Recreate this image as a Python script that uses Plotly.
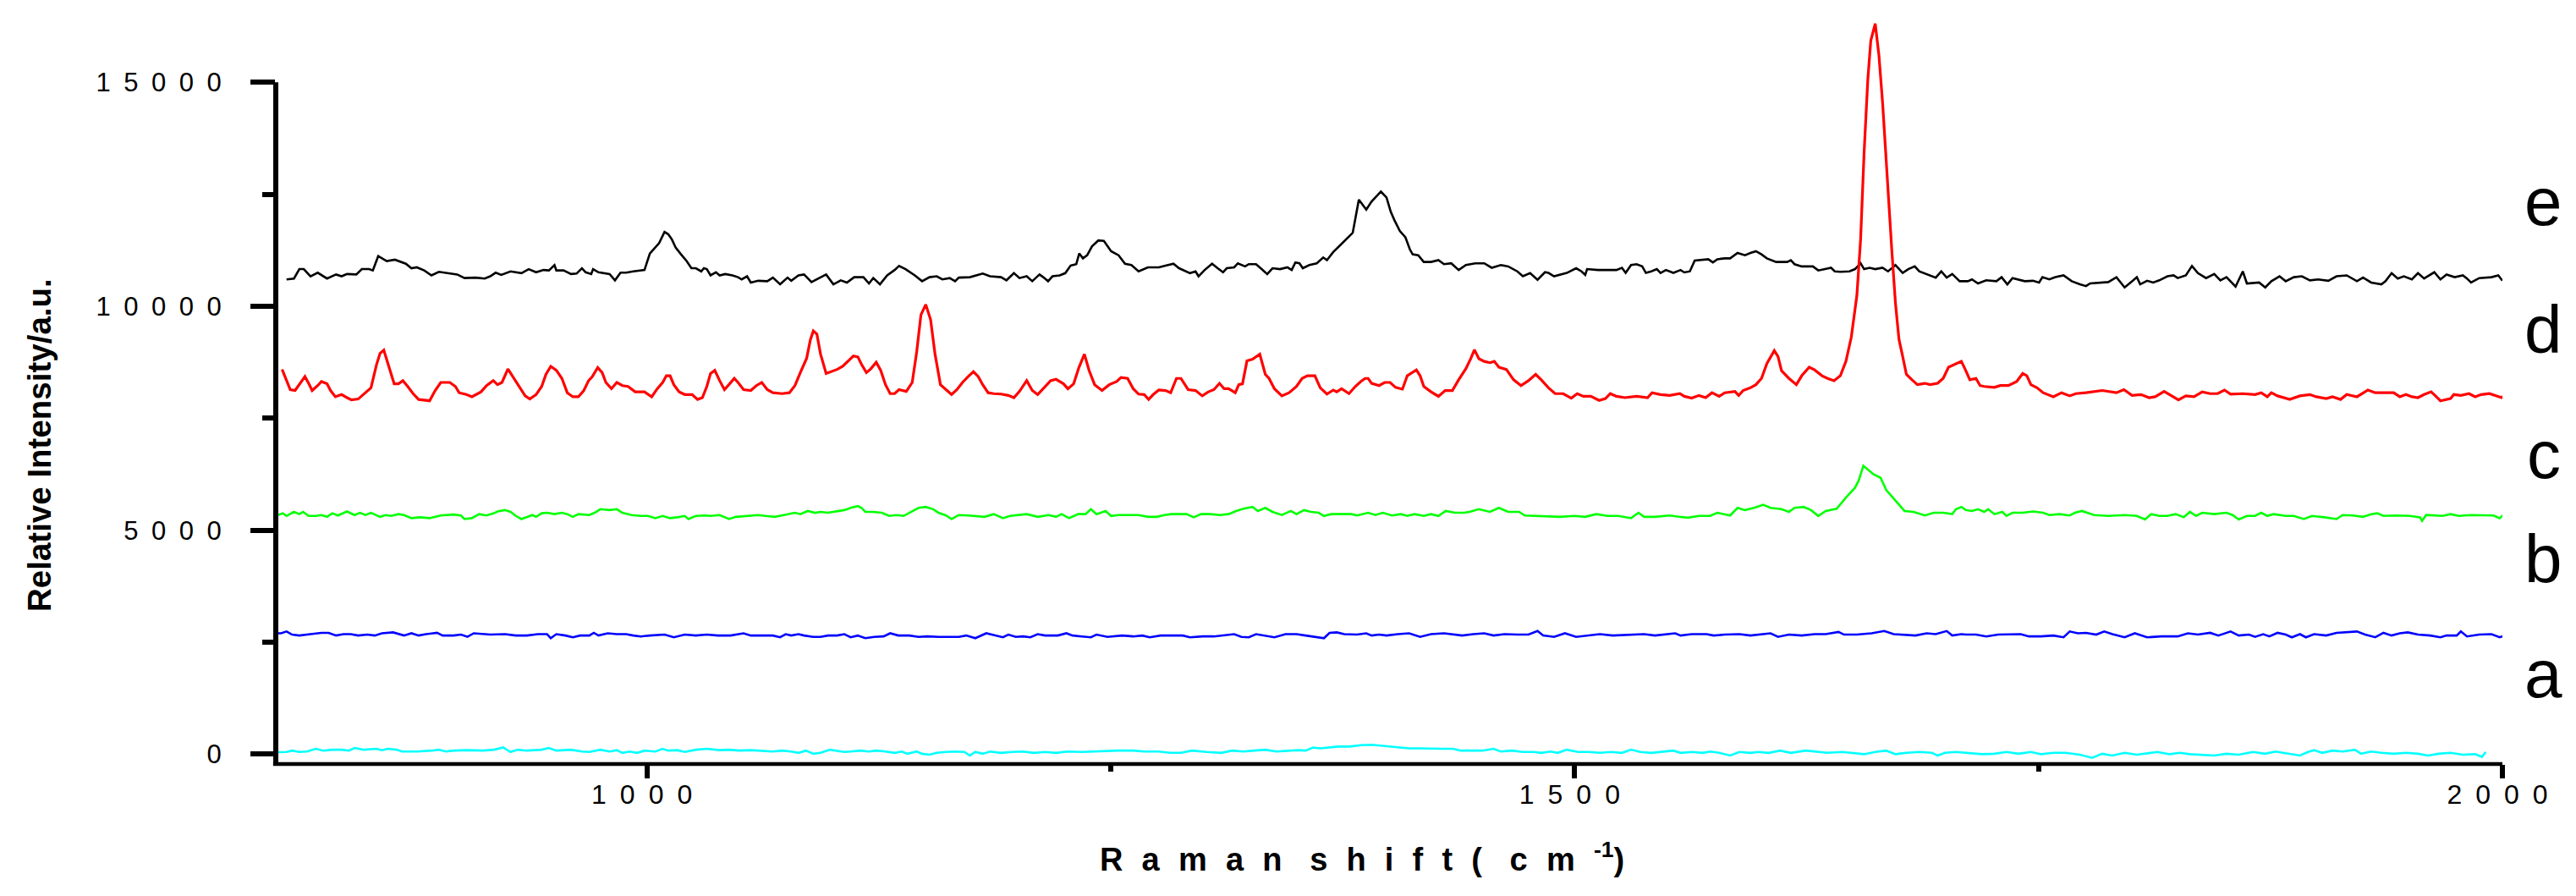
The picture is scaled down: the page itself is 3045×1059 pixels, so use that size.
import plotly.graph_objects as go

# ---------------- data ----------------
e_x = [805.8, 809.8, 812.7, 815.1, 818.7, 822.6, 827.6, 832.5, 835.5, 838.4, 843.4, 846.4, 850.3, 852.3, 855.2, 857.2, 859.8, 864.2, 867.1, 870.1, 873.1, 876.0, 880.0, 883.9, 887.9, 893.8, 897.8, 901.7, 907.7, 912.6, 915.6, 918.5, 921.5, 926.5, 932.4, 936.3, 940.3, 944.3, 947.2, 950.2, 951.2, 955.1, 959.1, 962.1, 965.0, 967.0, 970.0, 971.0, 973.9, 979.9, 982.8, 985.8, 988.8, 992.7, 998.7, 1001.6, 1004.6, 1006.6, 1009.5, 1011.5, 1013.5, 1015.5, 1018.4, 1021.4, 1024.0, 1026.4, 1029.3, 1030.7, 1032.3, 1034.3, 1037.2, 1039.2, 1042.2, 1046.1, 1049.1, 1051.1, 1054.0, 1056.0, 1060.0, 1064.9, 1067.9, 1071.8, 1075.8, 1077.8, 1081.7, 1084.7, 1088.7, 1092.6, 1096.6, 1100.5, 1104.5,
       1107.8, 1111.7, 1116.7, 1119.7, 1122.0, 1125.6, 1129.5, 1133.5, 1135.9, 1139.4, 1144.4, 1148.3, 1152.3, 1156.2, 1159.2, 1163.2, 1166.1, 1168.1, 1174.1, 1178.0, 1181.0, 1184.9, 1190.9, 1193.8, 1197.8, 1200.8, 1204.7, 1207.7, 1211.6, 1213.6, 1216.2, 1218.6, 1222.5, 1225.5, 1228.4, 1231.4, 1233.0, 1235.0, 1237.3, 1239.9, 1243.3, 1246.3, 1250.2, 1254.2, 1257.7, 1261.1, 1265.0, 1270.0, 1275.9, 1279.9, 1283.8, 1286.8, 1292.7, 1295.7, 1297.3, 1300.6, 1304.6, 1307.6, 1310.5, 1312.5, 1316.5, 1318.5, 1322.4, 1324.4, 1328.3, 1331.3, 1334.3, 1337.2, 1341.2, 1345.2, 1347.5, 1349.5, 1351.7, 1353.5, 1357.0, 1361.0, 1364.5, 1366.5, 1369.9, 1373.8, 1376.8, 1380.4, 1383.7, 1387.7, 1390.6, 1392.6, 1395.6, 1398.6,
       1400.9, 1402.9, 1405.8, 1408.8, 1411.2, 1412.7, 1415.7, 1418.7, 1422.6, 1426.6, 1429.6, 1433.5, 1437.5, 1441.4, 1446.4, 1451.3, 1455.3, 1460.2, 1464.2, 1469.1, 1472.1, 1476.0, 1480.0, 1484.0, 1485.9, 1488.9, 1495.8, 1500.8, 1503.7, 1505.7, 1506.7, 1512.6, 1517.6, 1522.5, 1525.5, 1527.5, 1530.4, 1533.4, 1536.4, 1538.4, 1541.3, 1544.3, 1546.3, 1549.2, 1553.2, 1557.1, 1559.1, 1562.1, 1564.7, 1569.0, 1572.0, 1574.5, 1576.9, 1580.9, 1583.8, 1587.8, 1591.8, 1594.7, 1597.7, 1600.7, 1603.6, 1608.6, 1614.5, 1616.5, 1618.5, 1622.4, 1628.4, 1631.3, 1635.3, 1638.2, 1640.2, 1643.2, 1648.1, 1651.1, 1654.1, 1656.0, 1659.0, 1662.0, 1665.9, 1668.9, 1672.9, 1676.8, 1679.8, 1683.3, 1685.7, 1689.7, 1694.6, 1697.6, 1700.5, 1703.5, 1707.5,
       1711.9, 1714.1, 1717.4, 1721.8, 1727.3, 1730.1, 1733.2, 1736.0, 1742.6, 1747.0, 1750.3, 1752.1, 1755.8, 1759.1, 1763.5, 1767.9, 1772.3, 1775.6, 1777.8, 1783.2, 1787.6, 1792.0, 1796.4, 1800.8, 1803.0, 1804.8, 1808.5, 1811.8, 1815.1, 1819.5, 1822.8, 1825.0, 1829.4, 1832.7, 1835.9, 1840.3, 1844.7, 1848.0, 1851.3, 1856.2, 1860.1, 1862.3, 1868.9, 1872.2, 1875.5, 1879.9, 1883.2, 1887.6, 1891.9, 1896.3, 1900.7, 1906.2, 1910.6, 1916.1, 1921.6, 1924.9, 1929.3, 1934.8, 1937.0, 1940.3, 1943.6, 1946.9, 1951.2, 1954.5, 1957.8, 1963.3, 1966.6, 1969.9, 1974.3, 1978.7, 1980.9, 1983.1, 1987.5, 1994.1, 1997.8, 2000.0]
e_y = [10600, 10620, 10830, 10830, 10670, 10750, 10620, 10710, 10670, 10720, 10710, 10830, 10830, 10800, 11120, 11070, 11010, 11040, 11000, 10950, 10850, 10870, 10800, 10690, 10770, 10740, 10710, 10630, 10640, 10620, 10670, 10750, 10700, 10780, 10740, 10830, 10760, 10810, 10800, 10920, 10800, 10800, 10720, 10730, 10850, 10760, 10720, 10830, 10760, 10720, 10580, 10750, 10750, 10780, 10810, 11180, 11320, 11410, 11660, 11610, 11490, 11310, 11160, 11010, 10850, 10850, 10780, 10850, 10830, 10690, 10760, 10690, 10720, 10690, 10650, 10600, 10670, 10530, 10570, 10560, 10640, 10490, 10640, 10570, 10690, 10710, 10540, 10620, 10710, 10490, 10580,
       10530, 10650, 10650, 10510, 10630, 10490, 10690, 10810, 10900, 10830, 10690, 10560, 10650, 10670, 10600, 10630, 10560, 10640, 10650, 10690, 10730, 10670, 10650, 10580, 10740, 10630, 10670, 10560, 10710, 10650, 10560, 10670, 10690, 10740, 10910, 10940, 11180, 11070, 11140, 11340, 11470, 11460, 11230, 11140, 10950, 10920, 10780, 10870, 10870, 10910, 10950, 10850, 10740, 10780, 10670, 10810, 10950, 10850, 10760, 10850, 10870, 10960, 10890, 10940, 10940, 10830, 10720, 10850, 10830, 10870, 10810, 10980, 10960, 10850, 10920, 10960, 11090, 11030, 11210, 11370, 11500, 11640, 12380, 12160, 12340, 12430, 12560, 12430,
       12110, 11920, 11680, 11540, 11270, 11160, 11140, 10990, 10990, 11030, 10940, 10960, 10810, 10920, 10960, 10960, 10860, 10920, 10890, 10780, 10670, 10740, 10590, 10760, 10745, 10670, 10745, 10850, 10780, 10700, 10830, 10810, 10810, 10810, 10860, 10745, 10920, 10940, 10890, 10745, 10780, 10830, 10745, 10810, 10745, 10810, 10756, 10780, 11020, 11030, 11050, 10980, 11050, 11070, 11070, 11190, 11140, 11190, 11230, 11160, 11070, 10990, 10990, 11030, 10940, 10890, 10890, 10800, 10830, 10860, 10780, 10770, 10780, 10830, 10960, 10830, 10860, 10830, 10860, 10780, 10920, 10745, 10830, 10890, 10780, 10720, 10640, 10780, 10640, 10720, 10560,
       10560, 10600, 10510, 10580, 10560, 10650, 10490, 10630, 10560, 10570, 10530, 10650, 10600, 10650, 10690, 10560, 10490, 10450, 10510, 10530, 10540, 10650, 10420, 10570, 10650, 10490, 10570, 10530, 10580, 10670, 10690, 10630, 10690, 10900, 10740, 10630, 10720, 10580, 10650, 10440, 10780, 10510, 10530, 10420, 10560, 10670, 10560, 10650, 10670, 10580, 10600, 10570, 10670, 10690, 10560, 10640, 10530, 10490, 10560, 10740, 10620, 10670, 10600, 10740, 10620, 10760, 10600, 10710, 10650, 10690, 10620, 10530, 10630, 10650, 10690, 10570]

d_x = [803.4, 805.8, 807.8, 810.4, 812.7, 815.7, 817.7, 819.6, 822.6, 824.6, 827.6, 829.5, 832.1, 835.5, 838.4, 840.8, 844.4, 847.3, 851.3, 854.3, 856.2, 858.2, 860.6, 863.8, 866.1, 868.5, 871.1, 874.0, 877.0, 880.0, 882.9, 885.9, 888.9, 893.8, 896.8, 898.8, 902.7, 905.7, 910.6, 913.6, 917.2, 919.5, 921.9, 925.1, 927.8, 931.4, 934.4, 936.9, 940.3, 943.3, 945.6, 948.2, 951.2, 954.2, 957.1, 960.1, 963.1, 966.0, 968.6, 970.6, 973.5, 975.9, 977.9, 980.9, 983.8, 986.8, 989.8, 993.7, 998.7, 1002.6, 1005.6, 1008.5, 1010.5, 1012.5, 1014.5, 1017.4, 1020.4, 1024.4, 1027.3, 1029.9, 1032.3, 1034.3, 1036.6, 1039.2, 1041.8, 1044.2, 1047.1, 1049.1, 1052.1, 1056.0, 1059.0, 1061.9, 1064.9, 1067.9, 1072.8, 1076.8, 1079.8, 1082.7, 1086.1, 1088.1, 1089.7, 1091.6, 1093.6, 1096.6, 1099.5, 1102.5, 1105.5,
       1108.8, 1111.3, 1113.7, 1115.7, 1118.3, 1120.6, 1123.6, 1126.0, 1128.6, 1131.1, 1133.5, 1135.9, 1139.8, 1143.0, 1145.4, 1147.7, 1150.3, 1152.9, 1155.3, 1158.2, 1161.2, 1164.2, 1167.1, 1170.1, 1173.1, 1176.0, 1178.6, 1181.0, 1183.9, 1186.9, 1190.9, 1194.8, 1197.8, 1200.8, 1204.7, 1207.7, 1210.6, 1214.6, 1217.6, 1220.5, 1224.5, 1226.9, 1230.0, 1232.8, 1235.8, 1238.3, 1241.3, 1245.3, 1249.2, 1253.2, 1255.5, 1259.1, 1262.1, 1265.0, 1268.0, 1270.4, 1272.9, 1275.9, 1279.5, 1282.3, 1285.4, 1287.8, 1291.7, 1295.7, 1299.3, 1302.6, 1305.6, 1308.6, 1311.1, 1313.5, 1317.1, 1319.0, 1321.0, 1323.4, 1326.4, 1330.3, 1333.3, 1335.3, 1338.2, 1342.2, 1346.1, 1350.1, 1353.1, 1356.0, 1360.0, 1362.9, 1366.5, 1369.9, 1371.8, 1374.4, 1378.4, 1381.8, 1384.7, 1387.1, 1388.7, 1390.6, 1394.6, 1397.6, 1400.5, 1403.5,
       1407.2, 1409.8, 1412.7, 1414.7, 1416.7, 1418.7, 1422.6, 1426.6, 1430.2, 1434.1, 1437.5, 1441.4, 1444.0, 1446.0, 1448.4, 1451.3, 1454.3, 1456.7, 1459.2, 1463.2, 1467.1, 1471.1, 1475.1, 1479.0, 1482.0, 1485.9, 1489.5, 1493.8, 1498.2, 1501.4, 1504.7, 1508.7, 1513.2, 1516.6, 1519.2, 1522.5, 1527.1, 1533.4, 1539.3, 1541.7, 1546.3, 1551.2, 1556.7, 1559.1, 1563.1, 1567.0, 1570.6, 1574.0, 1577.9, 1580.9, 1586.4, 1588.4, 1590.8, 1594.7, 1597.7, 1600.7, 1603.6, 1607.6, 1609.6, 1611.5, 1615.5, 1619.5, 1622.4, 1626.4, 1629.3, 1633.3, 1636.3, 1639.8, 1643.2, 1646.2, 1649.1, 1652.1, 1654.1, 1656.0, 1658.0, 1659.6, 1662.0, 1664.0, 1666.0, 1668.3, 1670.9, 1672.9, 1674.8, 1676.8, 1678.8, 1681.8, 1684.7, 1688.7, 1691.6, 1695.6, 1698.6, 1701.5, 1704.5, 1708.4,
       1710.3, 1713.0, 1716.3, 1718.5, 1720.7, 1726.2, 1729.4, 1733.8, 1738.2, 1741.5, 1743.7, 1745.9, 1749.2, 1752.5, 1758.0, 1762.4, 1766.8, 1770.1, 1775.6, 1784.3, 1792.0, 1796.0, 1800.4, 1805.2, 1809.6, 1812.9, 1817.7, 1821.7, 1825.4, 1829.4, 1833.8, 1838.2, 1842.5, 1846.5, 1850.2, 1853.5, 1860.1, 1866.7, 1870.0, 1873.3, 1875.5, 1878.8, 1885.4, 1890.9, 1896.3, 1899.6, 1905.1, 1908.4, 1912.8, 1916.1, 1921.6, 1927.5, 1931.5, 1937.0, 1941.4, 1944.7, 1948.0, 1951.2, 1954.5, 1957.8, 1961.6, 1964.4, 1966.6, 1972.1, 1973.8, 1977.6, 1982.0, 1985.3, 1988.6, 1993.0, 1996.3, 1999.6, 2002.0]
d_y = [8590, 8340, 8140, 8120, 8250, 8430, 8280, 8120, 8230, 8320, 8270, 8120, 7980, 8030, 7960, 7910, 7930, 8030, 8180, 8700, 8950, 9020, 8700, 8270, 8270, 8340, 8210, 8050, 7920, 7910, 7890, 8120, 8300, 8300, 8210, 8070, 8030, 7980, 8090, 8230, 8340, 8250, 8300, 8600, 8430, 8180, 8000, 7930, 8030, 8210, 8480, 8660, 8570, 8390, 8070, 7980, 7980, 8120, 8340, 8430, 8630, 8520, 8300, 8160, 8300, 8230, 8210, 8090, 8090, 7980, 8160, 8300, 8450, 8450, 8250, 8090, 8030, 8030, 7920, 7960, 8210, 8500, 8570, 8340, 8140, 8250, 8390, 8300, 8140, 8120, 8230, 8300, 8140, 8070, 8050, 8070, 8230, 8520, 8840, 9250, 9450, 9380, 8930, 8500, 8540, 8590, 8660,
       8780, 8890, 8870, 8700, 8520, 8600, 8750, 8570, 8250, 8050, 8050, 8140, 8100, 8300, 8980, 9810, 10040, 9700, 8930, 8250, 8140, 8030, 8140, 8300, 8430, 8540, 8430, 8250, 8070, 8050, 8040, 8010, 7960, 8100, 8340, 8120, 8030, 8220, 8340, 8370, 8270, 8160, 8270, 8630, 8930, 8570, 8250, 8120, 8250, 8320, 8410, 8390, 8160, 8040, 8030, 7920, 8030, 8130, 8120, 8070, 8390, 8390, 8140, 8120, 8000, 8090, 8140, 8280, 8160, 8160, 8070, 8250, 8270, 8780, 8820, 8930, 8480, 8390, 8160, 8000, 8070, 8210, 8390, 8450, 8450, 8180, 8040, 8130, 8090, 8160, 8050, 8210, 8320, 8390, 8390, 8280, 8230, 8300, 8300, 8190,
       8150, 8450, 8530, 8580, 8450, 8210, 8090, 7990, 8120, 8120, 8360, 8610, 8830, 9030, 8830, 8770, 8740, 8770, 8640, 8590, 8360, 8230, 8340, 8480, 8360, 8180, 8050, 8050, 7950, 8050, 7990, 7990, 7900, 7940, 8050, 7990, 7960, 7990, 7960, 8070, 8030, 8010, 8050, 7990, 7950, 8010, 7960, 8070, 7990, 8070, 8100, 8010, 8120, 8180, 8250, 8390, 8720, 9010, 8880, 8560, 8390, 8250, 8450, 8640, 8580, 8450, 8390, 8340, 8450, 8770, 9310, 10240, 11480, 13430, 15060, 15930, 16310, 15600, 14520, 12890, 11270, 10070, 9260, 8880, 8480, 8360, 8250, 8280, 8250, 8280, 8390, 8640, 8690, 8770,
       8610, 8360, 8390, 8230, 8210, 8190, 8230, 8230, 8320, 8500, 8450, 8250, 8180, 8070, 7980, 8070, 8000, 8050, 8070, 8120, 8070, 8140, 8010, 8030, 7960, 7980, 8100, 8000, 7910, 8000, 7980, 8090, 8050, 8050, 8130, 8040, 8050, 8030, 8070, 7980, 8070, 8000, 7920, 8000, 8030, 7980, 7940, 7980, 7920, 8030, 7980, 8130, 8070, 8070, 8070, 7980, 8030, 7980, 7960, 8030, 8090, 7980, 7890, 7940, 8030, 8010, 8050, 7980, 8030, 8050, 8010, 7960, 8050]

c_x = [796.9, 799.9, 803.8, 805.8, 809.8, 812.7, 814.7, 817.7, 821.6, 824.6, 827.6, 830.5, 833.5, 838.4, 842.4, 845.4, 848.3, 851.3, 856.2, 859.2, 862.2, 866.1, 869.1, 873.1, 878.0, 882.9, 888.9, 895.8, 899.8, 901.7, 905.7, 909.6, 913.6, 917.6, 919.5, 923.5, 926.5, 929.4, 932.4, 935.4, 938.3, 940.3, 943.3, 946.2, 950.2, 954.2, 957.1, 960.1, 963.1, 969.0, 971.9, 974.9, 979.9, 983.8, 986.8, 991.7, 996.7, 1000.6, 1004.6, 1008.5, 1012.5, 1016.5, 1020.4, 1022.4, 1026.4, 1031.3, 1034.3, 1039.2, 1044.2, 1048.1, 1054.0, 1060.0, 1063.9, 1068.9, 1073.8, 1079.8, 1082.7, 1086.7, 1090.6, 1093.6, 1097.6, 1102.5, 1106.4,
       1109.8, 1113.7, 1115.7, 1117.7, 1121.6, 1126.6, 1130.5, 1134.5, 1138.4, 1142.4, 1146.4, 1150.3, 1154.3, 1157.2, 1161.2, 1164.2, 1168.1, 1173.1, 1177.0, 1182.0, 1186.9, 1191.9, 1195.8, 1200.8, 1204.7, 1210.6, 1216.6, 1220.5, 1223.5, 1227.5, 1232.4, 1236.4, 1239.3, 1242.3, 1247.2, 1250.2, 1254.2, 1260.1, 1265.0, 1270.0, 1274.9, 1278.9, 1282.8, 1287.8, 1290.8, 1294.7, 1298.7, 1303.6, 1308.6, 1313.5, 1317.5, 1321.5, 1326.4, 1329.3, 1333.3, 1337.2, 1342.2, 1347.1, 1350.1, 1354.1, 1358.0, 1362.0, 1364.9, 1368.9, 1374.8, 1379.8, 1382.7, 1388.7, 1392.6, 1396.6, 1401.5, 1406.5,
       1409.8, 1413.7, 1418.7, 1422.6, 1426.6, 1430.5, 1435.5, 1440.4, 1443.4, 1448.3, 1454.3, 1459.2, 1464.2, 1470.1, 1473.1, 1480.0, 1485.9, 1491.9, 1499.8, 1505.7, 1511.6, 1517.6, 1523.5, 1530.4, 1534.4, 1537.4, 1543.3, 1551.2, 1556.2, 1561.1, 1567.0, 1573.0, 1576.9, 1580.9, 1583.8, 1587.8, 1591.8, 1596.7, 1601.6, 1605.6, 1611.5, 1615.5, 1618.5, 1623.4, 1627.4, 1631.3, 1635.3, 1641.2, 1646.2, 1651.1, 1653.1, 1655.6, 1658.0, 1661.0, 1664.9, 1667.9, 1671.9, 1674.8, 1677.8, 1682.7, 1688.7, 1693.6, 1698.6, 1703.5, 1705.5, 1708.5,
       1710.8, 1714.1, 1717.4, 1720.7, 1722.9, 1726.2, 1730.5, 1732.7, 1736.0, 1741.5, 1747.0, 1752.5, 1755.8, 1761.3, 1766.8, 1769.6, 1773.4, 1780.0, 1787.6, 1796.4, 1803.0, 1807.4, 1810.7, 1815.1, 1819.5, 1823.9, 1828.3, 1831.6, 1834.9, 1838.2, 1844.7, 1851.3, 1854.6, 1857.9, 1862.3, 1866.7, 1870.0, 1873.3, 1876.6, 1883.2, 1887.6, 1893.0, 1897.4, 1904.0, 1910.6, 1913.9, 1919.4, 1924.9, 1929.3, 1932.6, 1935.9, 1942.5, 1950.1, 1955.6, 1956.7, 1958.9, 1963.3, 1967.7, 1972.1, 1976.5, 1983.1, 1989.7, 1995.2, 1998.5, 2000.5]
c_y = [5340, 5320, 5380, 5320, 5410, 5360, 5410, 5320, 5320, 5340, 5300, 5380, 5330, 5420, 5340, 5390, 5340, 5390, 5300, 5340, 5320, 5360, 5340, 5270, 5290, 5270, 5330, 5350, 5330, 5250, 5270, 5360, 5330, 5380, 5420, 5450, 5410, 5320, 5250, 5300, 5340, 5300, 5380, 5390, 5360, 5390, 5360, 5300, 5360, 5340, 5390, 5470, 5450, 5470, 5390, 5340, 5320, 5320, 5270, 5320, 5270, 5290, 5320, 5250, 5320, 5330, 5320, 5340, 5250, 5300, 5320, 5340, 5320, 5300, 5340, 5390, 5360, 5430, 5390, 5410, 5390, 5420, 5450,
       5500, 5540, 5500, 5410, 5410, 5390, 5320, 5340, 5320, 5410, 5500, 5520, 5470, 5390, 5330, 5250, 5340, 5330, 5320, 5300, 5360, 5270, 5320, 5340, 5360, 5300, 5340, 5300, 5360, 5270, 5360, 5360, 5470, 5360, 5430, 5320, 5340, 5340, 5340, 5300, 5300, 5340, 5360, 5360, 5360, 5290, 5360, 5360, 5340, 5360, 5430, 5480, 5520, 5430, 5500, 5410, 5340, 5430, 5360, 5450, 5410, 5390, 5320, 5360, 5360, 5360, 5330, 5390, 5340, 5390, 5330, 5360,
       5320, 5360, 5320, 5360, 5320, 5430, 5390, 5390, 5410, 5470, 5410, 5500, 5410, 5410, 5330, 5320, 5320, 5300, 5320, 5300, 5360, 5320, 5320, 5270, 5390, 5300, 5300, 5330, 5300, 5280, 5320, 5320, 5390, 5360, 5330, 5500, 5450, 5500, 5570, 5500, 5470, 5410, 5500, 5520, 5450, 5320, 5430, 5480, 5730, 5950, 6110, 6440, 6360, 6250, 6170, 5900, 5710, 5570, 5430, 5410, 5330, 5390, 5390, 5360, 5470, 5520,
       5450, 5430, 5470, 5410, 5470, 5360, 5410, 5320, 5390, 5390, 5420, 5390, 5340, 5360, 5330, 5390, 5430, 5340, 5320, 5340, 5320, 5240, 5360, 5320, 5320, 5360, 5290, 5410, 5320, 5390, 5360, 5390, 5340, 5240, 5320, 5320, 5390, 5320, 5360, 5320, 5320, 5250, 5320, 5290, 5250, 5340, 5330, 5300, 5360, 5380, 5320, 5330, 5320, 5290, 5210, 5340, 5330, 5320, 5360, 5320, 5340, 5340, 5330, 5270, 5340]

b_x = [796.9, 799.9, 802.8, 805.8, 808.8, 812.7, 818.7, 824.6, 828.5, 832.5, 836.5, 840.4, 844.4, 849.3, 853.3, 857.2, 863.2, 869.1, 873.1, 877.0, 881.0, 886.9, 889.9, 895.8, 899.8, 903.3, 906.7, 911.6, 915.6, 923.5, 929.4, 935.4, 941.3, 946.2, 948.2, 951.2, 956.1, 960.1, 964.0, 969.0, 971.4, 973.9, 978.9, 983.8, 988.8, 992.7, 996.7, 1001.6, 1006.6, 1009.5, 1014.5, 1020.4, 1026.4, 1032.3, 1038.2, 1045.1, 1052.1, 1056.0, 1062.9, 1067.9, 1071.8, 1074.8, 1077.8, 1081.7, 1084.7, 1089.6, 1093.6, 1097.6, 1102.5, 1106.4,
       1109.8, 1113.7, 1117.7, 1122.6, 1127.6, 1131.1, 1135.5, 1141.4, 1146.4, 1151.3, 1157.2, 1163.2, 1168.1, 1172.1, 1177.0, 1182.9, 1187.9, 1191.9, 1194.8, 1198.8, 1202.7, 1206.7, 1210.6, 1214.6, 1218.6, 1221.5, 1226.1, 1229.4, 1234.4, 1239.3, 1242.3, 1248.2, 1256.1, 1262.1, 1267.0, 1271.0, 1276.9, 1282.8, 1288.8, 1292.7, 1299.7, 1305.6, 1311.5, 1316.5, 1320.4, 1324.4, 1328.3, 1332.3, 1338.2, 1344.2, 1350.1, 1355.0, 1361.0, 1364.9, 1367.9, 1371.8, 1375.8, 1382.7, 1387.7, 1390.6, 1394.6, 1398.6,
       1404.8, 1410.8, 1416.7, 1422.6, 1429.6, 1434.5, 1439.4, 1445.4, 1451.3, 1456.3, 1462.2, 1469.1, 1475.1, 1480.0, 1483.0, 1488.9, 1494.8, 1500.8, 1506.7, 1513.6, 1520.5, 1528.5, 1537.4, 1543.3, 1549.2, 1554.2, 1557.1, 1563.1, 1571.0, 1574.9, 1580.9, 1588.8, 1594.7, 1600.7, 1605.6, 1609.6, 1615.5, 1622.4, 1629.3, 1635.3, 1642.2, 1645.2, 1652.1, 1660.0, 1666.9, 1671.9, 1677.8, 1683.7, 1689.7, 1694.6, 1700.5, 1703.5, 1708.5,
       1710.8, 1716.3, 1721.8, 1728.3, 1734.9, 1740.4, 1744.8, 1751.4, 1758.0, 1763.5, 1766.8, 1771.2, 1775.6, 1781.1, 1785.4, 1789.8, 1796.4, 1801.9, 1808.5, 1816.2, 1825.0, 1830.5, 1835.9, 1842.5, 1846.9, 1853.5, 1857.9, 1863.4, 1866.7, 1871.1, 1874.4, 1878.8, 1883.2, 1886.5, 1890.9, 1894.1, 1898.5, 1905.1, 1910.6, 1916.1, 1921.6, 1926.0, 1931.5, 1935.9, 1940.3, 1944.7, 1949.0, 1954.5, 1961.1, 1966.6, 1969.9, 1975.4, 1977.6, 1980.9, 1987.5, 1994.1, 1998.5, 2001.1]
b_y = [2680, 2700, 2700, 2740, 2670, 2650, 2680, 2710, 2710, 2650, 2680, 2680, 2650, 2670, 2650, 2700, 2720, 2650, 2700, 2650, 2680, 2710, 2650, 2650, 2670, 2620, 2700, 2680, 2670, 2680, 2650, 2650, 2680, 2680, 2590, 2680, 2650, 2610, 2650, 2650, 2710, 2650, 2700, 2680, 2680, 2650, 2630, 2650, 2670, 2670, 2610, 2670, 2650, 2670, 2650, 2650, 2700, 2650, 2650, 2650, 2610, 2680, 2650, 2680, 2650, 2620, 2620, 2650, 2650, 2680,
       2610, 2650, 2590, 2620, 2630, 2700, 2650, 2650, 2620, 2630, 2620, 2620, 2620, 2650, 2590, 2700, 2650, 2610, 2670, 2620, 2630, 2610, 2680, 2650, 2650, 2650, 2700, 2650, 2630, 2610, 2670, 2620, 2650, 2630, 2650, 2610, 2650, 2650, 2650, 2610, 2630, 2630, 2650, 2680, 2620, 2610, 2680, 2650, 2610, 2680, 2680, 2650, 2620, 2590, 2710, 2720, 2680, 2670, 2700, 2650, 2670, 2650,
       2680, 2700, 2620, 2680, 2700, 2680, 2650, 2680, 2700, 2650, 2680, 2670, 2670, 2750, 2650, 2620, 2700, 2620, 2650, 2680, 2650, 2670, 2680, 2650, 2680, 2700, 2650, 2680, 2680, 2650, 2670, 2680, 2650, 2680, 2700, 2620, 2670, 2650, 2680, 2680, 2730, 2670, 2670, 2700, 2750, 2680, 2670, 2650, 2700, 2680, 2750, 2650, 2680,
       2670, 2670, 2630, 2670, 2670, 2680, 2630, 2630, 2650, 2610, 2740, 2700, 2710, 2670, 2740, 2680, 2610, 2700, 2610, 2630, 2630, 2700, 2670, 2710, 2650, 2740, 2650, 2670, 2620, 2680, 2630, 2710, 2670, 2610, 2680, 2610, 2680, 2650, 2710, 2720, 2740, 2670, 2610, 2710, 2650, 2700, 2720, 2670, 2650, 2610, 2650, 2650, 2740, 2630, 2670, 2680, 2610, 2650]

a_x = [796.0, 800.8, 805.8, 808.8, 812.7, 816.7, 821.6, 825.6, 830.5, 835.5, 839.4, 842.4, 847.3, 854.3, 857.2, 860.2, 865.1, 868.1, 876.0, 883.9, 887.9, 891.8, 895.8, 903.7, 911.6, 917.6, 922.5, 926.5, 930.4, 935.4, 943.3, 947.2, 951.2, 959.1, 965.0, 969.0, 974.9, 979.9, 983.8, 986.8, 990.7, 994.7, 998.7, 1004.6, 1008.5, 1011.5, 1016.5, 1020.4, 1026.4, 1032.3, 1039.2, 1044.2, 1050.1, 1056.0, 1062.9, 1067.9, 1072.8, 1077.8, 1081.7, 1085.7, 1089.7, 1093.6, 1098.6, 1102.5, 1106.4,
       1109.8, 1114.7, 1119.7, 1123.6, 1128.6, 1133.5, 1137.5, 1140.4, 1145.4, 1148.3, 1152.3, 1156.2, 1161.2, 1166.1, 1171.1, 1174.0, 1177.0, 1181.0, 1184.9, 1190.9, 1196.8, 1202.7, 1208.7, 1214.6, 1220.5, 1226.5, 1234.4, 1240.3, 1248.2, 1254.2, 1262.1, 1268.0, 1275.9, 1281.9, 1287.8, 1293.7, 1301.6, 1309.5, 1315.5, 1321.4, 1327.3, 1333.3, 1339.2, 1345.2, 1351.1, 1355.0, 1359.0, 1362.9, 1366.9, 1372.8, 1378.8, 1384.7, 1390.6, 1396.6, 1402.5, 1407.5,
       1410.8, 1416.7, 1422.6, 1428.6, 1434.5, 1438.5, 1444.4, 1450.3, 1456.3, 1460.2, 1466.2, 1472.1, 1478.0, 1482.0, 1486.9, 1490.9, 1495.8, 1501.8, 1507.7, 1513.6, 1519.6, 1525.5, 1530.4, 1535.4, 1541.3, 1547.3, 1553.2, 1557.1, 1563.1, 1569.0, 1573.0, 1577.9, 1583.8, 1588.8, 1594.7, 1598.7, 1604.6, 1610.6, 1616.5, 1624.4, 1630.3, 1636.3, 1644.2, 1650.1, 1656.0, 1662.0, 1667.9, 1672.9, 1678.8, 1685.7, 1692.6, 1695.6, 1699.6, 1705.5,
       1713.0, 1719.6, 1726.2, 1732.7, 1739.3, 1745.9, 1751.4, 1758.0, 1764.6, 1772.3, 1778.9, 1784.3, 1789.8, 1796.4, 1803.0, 1809.6, 1814.0, 1820.6, 1826.1, 1831.6, 1838.2, 1844.7, 1851.3, 1857.9, 1865.6, 1872.2, 1877.7, 1884.3, 1890.9, 1895.2, 1898.5, 1902.9, 1908.4, 1913.9, 1920.5, 1923.8, 1929.3, 1934.8, 1941.4, 1948.0, 1954.5, 1960.0, 1965.5, 1972.1, 1978.7, 1985.3, 1989.0, 1991.0]
a_y = [40, 50, 50, 80, 50, 60, 120, 80, 100, 100, 80, 140, 100, 120, 90, 120, 100, 60, 60, 80, 100, 60, 80, 90, 80, 100, 150, 50, 100, 80, 100, 140, 80, 100, 60, 50, 100, 60, 90, 30, 60, 30, 80, 60, 120, 80, 90, 50, 100, 120, 90, 100, 80, 90, 80, 60, 80, 60, 30, 80, 10, 30, 100, 80, 50,
       60, 80, 60, 80, 60, 30, 60, 10, 60, 10, -10, 30, 50, 60, 50, -30, 50, 10, 60, 30, 50, 60, 30, 50, 30, 60, 50, 60, 60, 80, 80, 60, 60, 30, 30, 80, 50, 30, 80, 60, 80, 100, 60, 80, 90, 80, 150, 130, 150, 170, 170, 200, 210, 190, 160, 140,
       130, 130, 120, 120, 120, 80, 80, 80, 120, 60, 80, 50, 50, 30, 60, 30, 100, 50, 50, 30, 50, 30, 100, 50, 30, 50, 80, 30, 50, 30, 60, 30, -30, 50, 30, 50, 30, 80, 30, 80, 50, 30, 50, 30, 0, 50, 80, 0, 30, 50, 30, -30, 30, 50,
       30, 0, 10, 50, 10, 50, 0, 30, 30, -10, -80, 10, -30, 30, -10, 30, 50, 0, 30, 0, -10, -30, 10, -10, 50, 10, 60, 10, -30, 50, 90, 30, 80, 60, 100, 10, 60, 30, 10, 30, 10, -30, 10, 30, -10, 0, -60, 50]

series = [
    ("e", e_x, e_y, "#000000", 2.6),
    ("d", d_x, d_y, "#FF0000", 3.2),
    ("c", c_x, c_y, "#00FF00", 2.6),
    ("b", b_x, b_y, "#0000FF", 2.6),
    ("a", a_x, a_y, "#00FFFF", 2.6),
]
label_y = {"e": 12135, "d": 9292, "c": 6487, "b": 4182, "a": 1613}

x_ticks = [1000, 1500, 2000]
x_minor = [1250, 1750]
y_ticks = [0, 5000, 10000, 15000]
y_minor = [2500, 7500, 12500]

SP = "\u2002"
y_ticktext = [SP.join(str(v)) for v in y_ticks]
x_ticktext = [SP.join(str(v)) for v in x_ticks]

fig = go.Figure()
for name, xs, ys, col, w in series:
    fig.add_trace(go.Scatter(x=xs, y=ys, mode="lines", name=name,
                             line=dict(color=col, width=w), showlegend=False))

# labels on the right
for name, *_ in series:
    fig.add_annotation(text=name, x=1.0185, xref="paper", y=label_y[name], yref="y",
                       showarrow=False, xanchor="center", yanchor="middle", yshift=10,
                       font=dict(family="Liberation Sans, Arial", size=80, color="black"))


def spaced(s, sp):
    return sp.join(list(s))


T_SP = "\u2002\u200a"
xtitle = spaced("Raman", T_SP) + T_SP + " " + spaced("shift(", T_SP) + T_SP + " " + \
    spaced("cm", T_SP) + T_SP + "<sup>-1</sup>)"
fig.add_annotation(text="<b>" + xtitle + "</b>", x=0.488, xref="paper", y=-0.1229, yref="paper",
                   showarrow=False, xanchor="center", yanchor="middle",
                   font=dict(family="Liberation Sans, Arial", size=38, color="black"))

# y title
fig.add_annotation(text="<b>Relative Intensity/a.u.</b>", x=-0.1064, xref="paper", y=0.4212, yref="paper",
                   showarrow=False, xanchor="center", yanchor="middle", textangle=-90,
                   font=dict(family="Liberation Sans, Arial", size=38.5, color="black"))

# axis lines
fig.add_shape(type="line", xref="paper", yref="y", x0=0, x1=0, y0=-219, y1=15000,
              line=dict(color="black", width=6))
fig.add_shape(type="line", xref="paper", yref="paper", x0=-0.0012, x1=1, y0=0, y1=0,
              line=dict(color="black", width=4.5))

fig.update_layout(
    width=3045, height=1059,
    margin=dict(l=318, r=95, t=0, b=164, pad=0),
    paper_bgcolor="white", plot_bgcolor="white",
    xaxis=dict(range=[800, 2000], showgrid=False, zeroline=False, showline=False,
               tickvals=x_ticks, ticktext=x_ticktext, ticks="outside", ticklen=16,
               tickwidth=6, tickcolor="black", ticklabelstandoff=-8, ticklabelshift=-6,
               tickfont=dict(family="Liberation Sans, Arial", size=32, color="black"),
               minor=dict(tickvals=x_minor, ticks="outside", ticklen=8, tickwidth=6, tickcolor="black")),
    yaxis=dict(range=[-219, 16687], showgrid=False, zeroline=False, showline=False,
               tickvals=y_ticks, ticktext=y_ticktext, ticks="outside", ticklen=29,
               tickwidth=6, tickcolor="black", ticklabelstandoff=28,
               tickfont=dict(family="Liberation Sans, Arial", size=31, color="black"),
               minor=dict(tickvals=y_minor, ticks="outside", ticklen=15, tickwidth=6, tickcolor="black")),
)

fig.write_html("out.html")
